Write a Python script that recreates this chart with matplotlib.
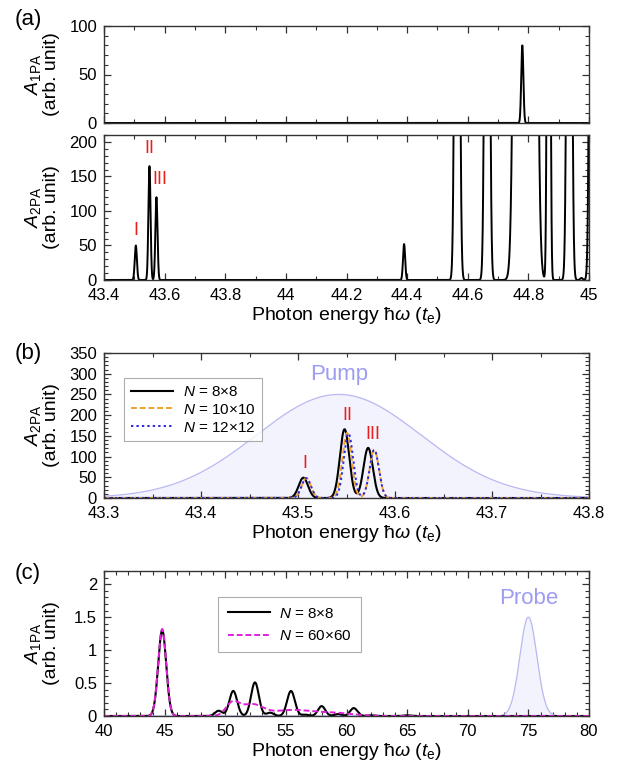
import numpy as np
import matplotlib
matplotlib.use("Agg")
import matplotlib.pyplot as plt
from matplotlib.ticker import MultipleLocator, FuncFormatter

plt.rcParams['font.family'] = ['Liberation Sans', 'DejaVu Sans']
plt.rcParams['mathtext.fontset'] = 'custom'
plt.rcParams['mathtext.rm'] = 'Liberation Sans'
plt.rcParams['mathtext.it'] = 'Liberation Sans:italic'
plt.rcParams['mathtext.bf'] = 'Liberation Sans:bold'

# ---------------- data (peak parameters) ----------------
# Panel (a) top: one-photon absorption spectrum (N = 8x8)
a1_pos = [44.78]
a1_height = [80]
a1_width = [0.0035]

# Panel (a) bottom: two-photon absorption spectrum (N = 8x8)
a2_pos = [43.505, 43.550, 43.573, 44.390, 44.565, 44.664, 44.773, 44.808, 44.867, 44.935, 44.975, 45.010]
a2_height = [50, 165, 120, 52, 1500, 1500, 3000, 3000, 1500, 1500, 3, 1500]
a2_width = [0.0035, 0.0035, 0.0035, 0.0035, 0.006, 0.006, 0.012, 0.012, 0.004, 0.006, 0.004, 0.006]

# Panel (b): 2PA near resonance, three system sizes
b_n8_pos = [43.5055, 43.548, 43.5723]
b_n8_height = [49, 166, 121]
b_n10_pos = [43.5085, 43.5505, 43.5786]
b_n10_height = [48, 157, 117]
b_n12_pos = [43.5085, 43.552, 43.5786]
b_n12_height = [48, 156, 116]
b_width = 0.0048
pump_center = 43.542
pump_height = 250
pump_width = 0.085

# Panel (c): 1PA spectrum after pump, two system sizes
c_n8_pos = [44.8, 49.45, 50.66, 52.45, 53.7, 55.42, 56.6, 57.95, 59.3, 60.6, 62.0, 65.0]
c_n8_height = [1.30, 0.08, 0.38, 0.51, 0.05, 0.38, 0.02, 0.15, 0.03, 0.12, 0.01, 0.01]
c_n8_width = [0.33, 0.3, 0.32, 0.32, 0.3, 0.32, 0.3, 0.3, 0.3, 0.3, 0.3, 0.3]
c_n60_pos = [44.8, 50.6, 52.2, 55.5, 59.0]
c_n60_height = [1.32, 0.19, 0.17, 0.09, 0.045]
c_n60_width = [0.33, 0.55, 0.9, 1.6, 1.5]
probe_center = 75.0
probe_height = 1.5
probe_width = 0.7

legend_b = [r'$N$ = 8$\times$8', r'$N$ = 10$\times$10', r'$N$ = 12$\times$12']
legend_c = [r'$N$ = 8$\times$8', r'$N$ = 60$\times$60']
xlabel = r'Photon energy ħ$\omega$ ($t_\mathrm{e}$)'


def spectrum(x, pos, height, width):
    pos = np.atleast_1d(pos)
    height = np.atleast_1d(height)
    width = np.broadcast_to(np.atleast_1d(width), pos.shape)
    y = np.zeros_like(x)
    for p, h, w in zip(pos, height, width):
        y += h * np.exp(-(x - p) ** 2 / (2 * w ** 2))
    return y


W, H = 635, 773
fig = plt.figure(figsize=(W / 100, H / 100), dpi=100)


def add_ax(left, top, right, bottom):
    return fig.add_axes([left / W, 1 - bottom / H, (right - left) / W, (bottom - top) / H])


spine_c = '#333333'
red = '#e8201c'
pump_edge = '#b8b8f2'
pump_fill = '#f3f3fd'
pump_text = '#9c9cf2'
fmt = FuncFormatter(lambda v, p: '%g' % round(v, 2))


def style(ax):
    for s in ax.spines.values():
        s.set_color(spine_c)
        s.set_linewidth(1.0)
    ax.tick_params(which='both', direction='in', top=True, right=True, color=spine_c,
                   labelsize=12)
    ax.tick_params(axis='x', which='both', pad=6)
    ax.tick_params(axis='y', which='both', pad=5)
    ax.tick_params(which='major', length=5, width=0.9)
    ax.tick_params(which='minor', length=3, width=0.8)


# ---------- (a) top ----------
ax1 = add_ax(104, 26, 589, 123)
x = np.linspace(43.4, 45.0, 6000)
ax1.plot(x, spectrum(x, a1_pos, a1_height, a1_width), color='black', lw=1.4)
ax1.set_xlim(43.4, 45.0)
ax1.set_ylim(0, 100)
ax1.xaxis.set_major_locator(MultipleLocator(0.2))
ax1.xaxis.set_minor_locator(MultipleLocator(0.1))
ax1.yaxis.set_major_locator(MultipleLocator(50))
ax1.yaxis.set_minor_locator(MultipleLocator(10))
style(ax1)
ax1.tick_params(labelbottom=False)
ax1.set_ylabel('$A_\\mathrm{1PA}$\n(arb. unit)', fontsize=14, linespacing=1.0)
ax1.yaxis.set_label_coords(-0.09, 0.5)

# ---------- (a) bottom ----------
ax2 = add_ax(104, 135, 589, 280)
ax2.plot(x, spectrum(x, a2_pos, a2_height, a2_width), color='black', lw=1.4)
ax2.set_xlim(43.4, 45.0)
ax2.set_ylim(0, 210)
ax2.xaxis.set_major_locator(MultipleLocator(0.2))
ax2.xaxis.set_minor_locator(MultipleLocator(0.1))
ax2.yaxis.set_major_locator(MultipleLocator(50))
ax2.yaxis.set_minor_locator(MultipleLocator(10))
style(ax2)
ax2.xaxis.set_major_formatter(fmt)
ax2.set_xlabel(xlabel, fontsize=14, labelpad=1)
ax2.set_ylabel('$A_\\mathrm{2PA}$\n(arb. unit)', fontsize=14, linespacing=1.0)
ax2.yaxis.set_label_coords(-0.09, 0.5)
ax2.text(43.505, 60, 'I', color=red, fontsize=13, ha='center', va='bottom')
ax2.text(43.549, 178, 'II', color=red, fontsize=13, ha='center', va='bottom')
ax2.text(43.583, 133, 'III', color=red, fontsize=13, ha='center', va='bottom')

fig.text(15 / W, 1 - 20 / H, '(a)', fontsize=16, ha='left', va='center')

# ---------- (b) ----------
ax3 = add_ax(104, 353, 589, 498)
xb = np.linspace(43.3, 43.8, 4000)
pump = spectrum(xb, pump_center, pump_height, pump_width)
ax3.fill_between(xb, 0, pump, color=pump_fill, lw=0)
ax3.plot(xb, pump, color=pump_edge, lw=0.9)
l1, = ax3.plot(xb, spectrum(xb, b_n8_pos, b_n8_height, b_width), color='black', lw=1.5)
l2, = ax3.plot(xb, spectrum(xb, b_n10_pos, b_n10_height, b_width), color='#f0a030', lw=1.4, ls=(0, (3, 1.5)))
l3, = ax3.plot(xb, spectrum(xb, b_n12_pos, b_n12_height, b_width), color='#2828e0', lw=1.4, ls=(0, (1.2, 1.6)))
ax3.set_xlim(43.3, 43.8)
ax3.set_ylim(0, 350)
ax3.xaxis.set_major_locator(MultipleLocator(0.1))
ax3.xaxis.set_minor_locator(MultipleLocator(0.05))
ax3.yaxis.set_major_locator(MultipleLocator(50))
ax3.yaxis.set_minor_locator(MultipleLocator(10))
style(ax3)
ax3.xaxis.set_major_formatter(fmt)
ax3.set_xlabel(xlabel, fontsize=14, labelpad=1)
ax3.set_ylabel('$A_\\mathrm{2PA}$\n(arb. unit)', fontsize=14, linespacing=1.0)
ax3.yaxis.set_label_coords(-0.09, 0.5)
ax3.text(pump_center, 272, 'Pump', color=pump_text, fontsize=16, ha='center', va='bottom')
ax3.text(43.507, 62, 'I', color=red, fontsize=13, ha='center', va='bottom')
ax3.text(43.551, 178, 'II', color=red, fontsize=13, ha='center', va='bottom')
ax3.text(43.577, 133, 'III', color=red, fontsize=13, ha='center', va='bottom')
leg = ax3.legend([l1, l2, l3], legend_b, loc='upper left', bbox_to_anchor=(0.025, 0.88),
                 fontsize=11, frameon=True, fancybox=False, edgecolor='#999999',
                 handlelength=2.8, handletextpad=0.6, borderpad=0.45, labelspacing=0.25)
leg.get_frame().set_linewidth(0.8)
fig.text(15 / W, 1 - 353 / H, '(b)', fontsize=16, ha='left', va='center')

# ---------- (c) ----------
ax4 = add_ax(104, 571, 589, 716)
xc = np.linspace(40, 80, 6000)
probe = spectrum(xc, probe_center, probe_height, probe_width)
ax4.fill_between(xc, 0, probe, color=pump_fill, lw=0)
ax4.plot(xc, probe, color=pump_edge, lw=0.9)
m1, = ax4.plot(xc, spectrum(xc, c_n8_pos, c_n8_height, c_n8_width), color='black', lw=1.5)
m2, = ax4.plot(xc, spectrum(xc, c_n60_pos, c_n60_height, c_n60_width), color='#e020d8', lw=1.4, ls=(0, (3, 1.5)))
ax4.set_xlim(40, 80)
ax4.set_ylim(0, 2.2)
ax4.xaxis.set_major_locator(MultipleLocator(5))
ax4.xaxis.set_minor_locator(MultipleLocator(1))
ax4.yaxis.set_major_locator(MultipleLocator(0.5))
ax4.yaxis.set_minor_locator(MultipleLocator(0.1))
style(ax4)
ax4.yaxis.set_major_formatter(fmt)
ax4.set_xlabel(xlabel, fontsize=14, labelpad=1)
ax4.set_ylabel('$A_\\mathrm{1PA}$\n(arb. unit)', fontsize=14, linespacing=1.0)
ax4.yaxis.set_label_coords(-0.09, 0.5)
ax4.text(probe_center, 1.62, 'Probe', color=pump_text, fontsize=16, ha='center', va='bottom')
leg2 = ax4.legend([m1, m2], legend_c, loc='upper left', bbox_to_anchor=(0.22, 0.87),
                  fontsize=11, frameon=True, fancybox=False, edgecolor='#999999',
                  handlelength=2.8, handletextpad=0.6, borderpad=0.6, labelspacing=0.55)
leg2.get_frame().set_linewidth(0.8)
fig.text(15 / W, 1 - 573 / H, '(c)', fontsize=16, ha='left', va='center')

fig.savefig('out.png', dpi=100)
